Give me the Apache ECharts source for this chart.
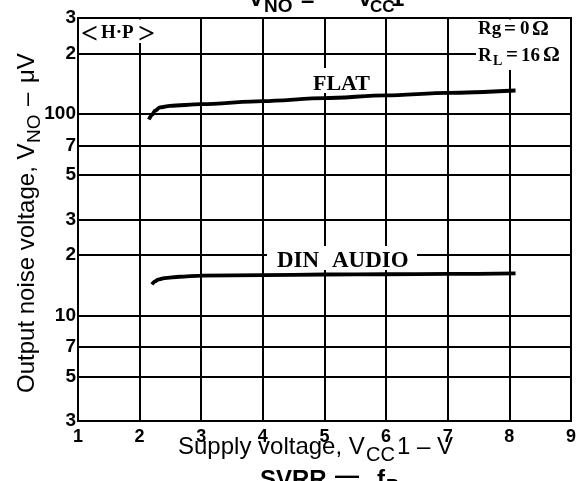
<!DOCTYPE html>
<html><head><meta charset="utf-8">
<script src="https://cdn.jsdelivr.net/npm/echarts@6/dist/echarts.min.js"></script>
<style>html,body{margin:0;padding:0;background:#fff;}#c{width:579px;height:481px;}</style>
</head><body><div id="c"></div>
<script>
// ---- data ----
const xTickValues = [1, 2, 3, 4, 5, 6, 7, 8, 9];
const yTickValues = [3, 5, 7, 10, 20, 30, 50, 70, 100, 200, 300];
const yTickLabels = ['3', '5', '7', '10', '2', '3', '5', '7', '100', '2', '3'];
const flatVcc   = [2.15, 2.2, 2.25, 2.33, 2.49, 3, 4, 5, 6, 7, 8.1];
const flatNoise = [94, 99, 104, 108, 110, 112, 116, 120, 124, 127.5, 131];
const dinVcc    = [2.2, 2.25, 2.3, 2.4, 2.65, 3, 4, 5, 6, 7, 8.1];
const dinNoise  = [14.3, 14.8, 15.1, 15.35, 15.6, 15.8, 15.9, 16.0, 16.05, 16.1, 16.2];

const SANS = '"Liberation Sans", Arial, sans-serif';
const SERIF = '"Liberation Serif", "Times New Roman", serif';

function T(x, y, text, size, opts) {
  return {
    type: 'text', x: x, y: y, z: 100,
    style: Object.assign({
      text: text, fontSize: size, fontFamily: SANS, fontWeight: 'normal', fill: '#000',
      textAlign: 'left', textVerticalAlign: 'middle', align: 'left', verticalAlign: 'middle'
    }, opts || {})
  };
}
function R(x, y, w, h) {
  return { type: 'rect', z: 99, shape: { x: x, y: y, width: w, height: h }, style: { fill: '#fff' } };
}
const B = { fontWeight: 'bold' };
const SB = { fontWeight: 'bold', fontFamily: SERIF };

const chart = echarts.init(document.getElementById('c'));
const lineStyle = { color: '#000', width: 3.8 };

chart.setOption({
  animation: false,
  backgroundColor: '#fff',
  grid: { left: 78, top: 18, width: 493, height: 403, show: true, borderColor: '#000', borderWidth: 2, backgroundColor: 'transparent' },
  xAxis: {
    type: 'value', min: xTickValues[0], max: xTickValues[xTickValues.length - 1], interval: 1,
    axisLine: { show: false }, axisTick: { show: false },
    splitLine: { show: true, lineStyle: { color: '#000', width: 2 } },
    axisLabel: { fontSize: 18, fontWeight: 'bold', color: '#000', fontFamily: SANS, margin: 7, showMinLabel: true, showMaxLabel: true }
  },
  yAxis: {
    type: 'log', logBase: 10, min: yTickValues[0], max: yTickValues[yTickValues.length - 1],
    axisLine: { show: false }, axisTick: { show: false }, splitLine: { show: false }, axisLabel: { show: false }
  },
  series: [
    {
      type: 'line', name: 'grid', data: [[1, 3]], symbol: 'none', showSymbol: false, silent: true, z: 1,
      lineStyle: { width: 0 },
      markLine: {
        silent: true, animation: false, symbol: ['none', 'none'],
        lineStyle: { color: '#000', width: 2, type: 'solid' },
        label: { position: 'start', distance: 2, fontSize: 19, fontWeight: 'bold', color: '#000', fontFamily: SANS },
        emphasis: { disabled: true },
        data: yTickValues.map((v, i) => ({ yAxis: v, label: { formatter: yTickLabels[i] } }))
      }
    },
    {
      type: 'line', name: 'FLAT', data: flatVcc.map((x, i) => [x, flatNoise[i]]),
      smooth: 0.3, smoothMonotone: 'x', symbol: 'none', showSymbol: false, lineStyle: lineStyle, z: 3
    },
    {
      type: 'line', name: 'DIN AUDIO', data: dinVcc.map((x, i) => [x, dinNoise[i]]),
      smooth: 0.3, smoothMonotone: 'x', symbol: 'none', showSymbol: false, lineStyle: lineStyle, z: 3
    }
  ],
  graphic: [
    // title (clipped at top)
    T(248, -1, 'V', 24, B), T(264, 7, 'NO', 19, B), T(301, 1, '–', 24, B),
    T(357, -1, 'V', 24, B), T(370, 7, 'CC', 17, B), T(391, -1, '1', 24, B),
    // bottom title (clipped)
    T(260, 480, 'SVRR', 24, B), T(335, 476, '—', 24, B), T(377, 480, 'f', 24, B), T(386, 487, 'R', 18, B),
    // x axis name
    T(178, 447, 'Supply voltage, V', 24), T(366, 455, 'CC', 20), T(397, 447, '1 – V', 24),
    // y axis name (rotated)
    { type: 'group', x: 27.5, y: 393, rotation: Math.PI / 2, z: 100,
      children: [ T(0, 0, 'Output noise voltage, V', 24), T(250, 7.5, 'NO', 19), T(287, 0, '–', 24), T(310, 0, 'μV', 24) ] },
    // <H·P> box
    R(80, 19.5, 80, 23.5),
    T(81, 35, '<', 30, SB), T(101, 33.5, 'H·P', 19, SB), T(138, 35, '>', 30, SB),
    // Rg / RL box
    R(476, 19.5, 94, 50.5),
    T(478, 29.5, 'Rg', 19, SB), T(504, 29.5, '=', 21, SB), T(520, 29.5, '0', 19, SB), T(532, 29.5, 'Ω', 21, SB),
    T(478, 56, 'R', 19, SB), T(493, 61, 'L', 14, SB), T(506, 56, '=', 21, SB), T(521, 56, '16', 19, SB), T(543, 56, 'Ω', 21, SB),
    // FLAT label
    R(311, 68, 61, 25),
    T(313, 84.5, 'FLAT', 22, SB),
    // DIN AUDIO label
    R(267, 246, 150, 24),
    T(277, 261, 'DIN', 23, SB), T(332, 261, 'AUDIO', 23, SB)
  ]
});
</script>
</body></html>
